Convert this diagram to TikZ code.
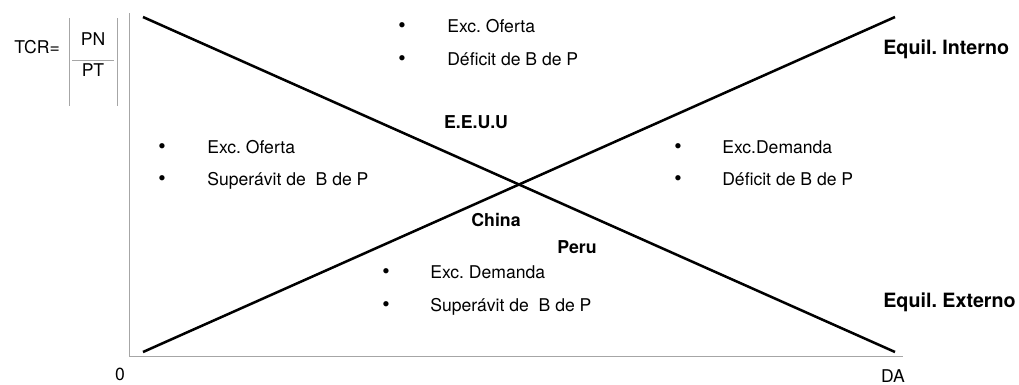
\documentclass[tikz,border=0pt]{standalone}
\usepackage{fontspec}
\setmainfont{TeX Gyre Heros}
\frenchspacing
\begin{document}
\begin{tikzpicture}[x=0.025cm,y=-0.025cm,
  txt/.style={anchor=base west,inner sep=0pt,font=\fontsize{12.5}{14}\selectfont},
  dot/.style={anchor=base,inner sep=0pt,font=\fontsize{15}{16}\selectfont},
  mid/.style={anchor=base,inner sep=0pt,font=\fontsize{12.5}{14}\selectfont},
  country/.style={anchor=base,inner sep=0pt,font=\fontsize{12.6}{14}\selectfont\bfseries},
  equil/.style={anchor=base west,inner sep=0pt,font=\fontsize{14}{16}\selectfont\bfseries},
  axis/.style={draw=black!35,line width=0.7pt},
  curve/.style={line width=1.8pt}]
\useasboundingbox (0,0) rectangle (1019,384);
% axes
\coordinate (ytop) at (129,13); \coordinate (o) at (129,356); \coordinate (xend) at (903,356);
\draw[axis] (ytop) -- (o) -- (xend);
\node[mid] (zero) at (120,380) {0};
\node[mid] (da) at (893,382) {DA};
% TCR = PN/PT
\node[txt] (tcr) at (14,53) {TCR=};
\node[mid] (pn) at (93,45) {PN};
\node[mid] (pt) at (93,76) {PT};
\coordinate (fl0) at (69,18); \coordinate (fl1) at (69,106);
\coordinate (fr0) at (117,18); \coordinate (fr1) at (117,106);
\coordinate (fb0) at (72,60); \coordinate (fb1) at (114,60);
\draw[axis] (fl0) -- (fl1); \draw[axis] (fr0) -- (fr1); \draw[axis] (fb0) -- (fb1);
% equilibrium lines
\coordinate (ii0) at (143,352); \coordinate (ii1) at (895,17);
\coordinate (ie0) at (143,17); \coordinate (ie1) at (895,352);
\draw[curve] (ii0) -- (ii1);
\draw[curve] (ie0) -- (ie1);
\node[equil] (interno) at (883,54) {Equil. Interno};
\node[equil] (externo) at (883,307) {Equil. Externo};
\node[country] (eeuu) at (476,128) {E.E.U.U};
\node[country] (china) at (496,226) {China};
\node[country] (peru) at (577,253) {Peru};
% zones
\node[dot] (t1) at (402,32) {\textbullet}; \node[txt] (tt1) at (447,32) {Exc. Oferta};
\node[dot] (t2) at (402,65) {\textbullet}; \node[txt] (tt2) at (447,65) {Déficit de B de P};
\node[dot] (l1) at (162,153) {\textbullet}; \node[txt] (lt1) at (207,153) {Exc. Oferta};
\node[dot] (l2) at (162,185) {\textbullet}; \node[txt] (lt2) at (207,185) {Superávit de~ B de P};
\node[dot] (r1) at (678,153) {\textbullet}; \node[txt] (rt1) at (722,153) {Exc.Demanda};
\node[dot] (r2) at (678,185) {\textbullet}; \node[txt] (rt2) at (722,185) {Déficit de B de P};
\node[dot] (b1) at (386,278) {\textbullet}; \node[txt] (bt1) at (430,278) {Exc. Demanda};
\node[dot] (b2) at (386,311) {\textbullet}; \node[txt] (bt2) at (430,311) {Superávit de~ B de P};
\end{tikzpicture}
\end{document}
